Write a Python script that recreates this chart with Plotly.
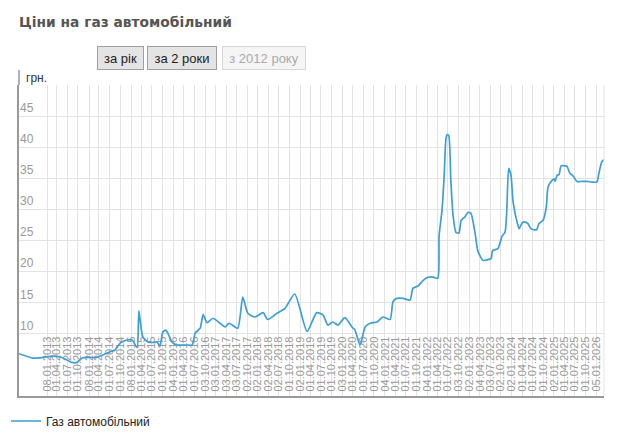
import plotly.graph_objects as go

# ---- data ----
dates = [
    "2012-05-11", "2012-09-08", "2012-12-05", "2013-02-28", "2013-05-15", "2013-06-28",
    "2013-08-10", "2013-09-24", "2013-11-07", "2014-01-15", "2014-03-15", "2014-05-05",
    "2014-07-05", "2014-08-18", "2014-10-01", "2014-11-28", "2015-01-12", "2015-02-25",
    "2015-03-12", "2015-04-15", "2015-05-30", "2015-07-12", "2015-08-15", "2015-09-10",
    "2015-10-05", "2015-10-30", "2015-11-17", "2015-12-22", "2016-02-02", "2016-05-01",
    "2016-06-14", "2016-07-10", "2016-08-22", "2016-09-17", "2016-10-20", "2016-12-10",
    "2017-02-10", "2017-03-25", "2017-04-28", "2017-07-12", "2017-08-25", "2017-10-08",
    "2017-12-10", "2018-02-17", "2018-03-28", "2018-06-17", "2018-08-25", "2018-11-17",
    "2019-03-03", "2019-05-26", "2019-07-20", "2019-08-30", "2019-10-12", "2019-11-25",
    "2020-01-23", "2020-03-25", "2020-04-20", "2020-06-03", "2020-07-17", "2020-08-30",
    "2020-10-28", "2020-12-17", "2021-02-17", "2021-03-15", "2021-04-16", "2021-06-10",
    "2021-08-08", "2021-09-02", "2021-10-17", "2021-11-30", "2022-01-11", "2022-02-25",
    "2022-04-05", "2022-04-16", "2022-05-12", "2022-05-30", "2022-06-14", "2022-06-25",
    "2022-07-08", "2022-07-26", "2022-08-15", "2022-09-09", "2022-10-05", "2022-10-23",
    "2022-11-25", "2022-12-20", "2023-01-15", "2023-02-20", "2023-03-17", "2023-05-01",
    "2023-06-28", "2023-07-10", "2023-07-23", "2023-09-06", "2023-10-12", "2023-11-06",
    "2023-11-22", "2023-12-08", "2023-12-28", "2024-01-15", "2024-02-18", "2024-03-08",
    "2024-04-01", "2024-04-26", "2024-05-22", "2024-06-17", "2024-07-23", "2024-08-08",
    "2024-08-25", "2024-10-01", "2024-10-28", "2024-11-12", "2024-12-18", "2025-01-05",
    "2025-01-12", "2025-01-30", "2025-02-15", "2025-03-05", "2025-04-10", "2025-04-25",
    "2025-05-20", "2025-06-15", "2025-07-20", "2025-09-01", "2025-10-15", "2025-11-25",
    "2026-01-08", "2026-01-25", "2026-02-20", "2026-03-10",
]
prices = [
    6.8, 6.1, 6.2, 6.4, 6.2, 5.8,
    5.4, 5.4, 6.1, 6.2, 6.2, 6.6,
    7.1, 7.4, 8.5, 9.0, 9.0, 7.8,
    13.7, 9.5, 8.7, 8.6, 8.7, 8.0,
    10.3, 10.6, 10.1, 8.7, 8.2, 8.2,
    8.2, 10.1, 10.9, 13.1, 11.8, 12.5,
    11.7, 11.1, 11.7, 10.9, 15.9, 13.3,
    12.7, 13.4, 12.3, 13.3, 14.1, 16.4,
    10.4, 13.4, 13.0, 11.4, 11.9, 11.4,
    12.6, 11.1, 10.6, 8.2, 11.1, 11.7,
    11.9, 12.7, 12.3, 15.2, 15.7, 15.7,
    15.4, 17.3, 17.7, 18.6, 19.1, 19.1,
    18.9, 25.7, 30.0, 35.4, 41.3, 42.0,
    41.9, 34.9, 29.0, 26.3, 26.2, 28.2,
    28.8, 29.5, 29.4, 26.3, 23.3, 21.8,
    22.0, 22.1, 23.4, 23.7, 25.7, 26.3,
    30.0, 36.6, 35.5, 31.2, 28.0, 26.9,
    27.8, 28.0, 27.7, 26.9, 26.7, 26.8,
    27.7, 28.3, 30.4, 33.6, 34.7, 34.9,
    34.5, 35.5, 35.6, 37.0, 37.0, 36.9,
    35.8, 35.4, 34.5, 34.5, 34.5, 34.4,
    34.4, 35.8, 37.7, 38.0,
]
tick_labels = [
    "08.01.2013", "01.04.2013", "01.07.2013", "01.10.2013", "08.01.2014", "01.04.2014",
    "01.07.2014", "01.10.2014", "08.01.2015", "01.04.2015", "01.07.2015", "01.10.2015",
    "04.01.2016", "01.04.2016", "01.07.2016", "03.10.2016", "03.01.2017", "03.04.2017",
    "03.07.2017", "02.10.2017", "02.01.2018", "02.04.2018", "02.07.2018", "01.10.2018",
    "02.01.2019", "01.04.2019", "01.07.2019", "01.10.2019", "03.01.2020", "01.04.2020",
    "01.07.2020", "01.10.2020", "04.01.2021", "01.04.2021", "01.07.2021", "01.10.2021",
    "04.01.2022", "01.04.2022", "01.07.2022", "03.10.2022", "02.01.2023", "04.04.2023",
    "03.07.2023", "02.10.2023", "02.01.2024", "01.04.2024", "01.07.2024", "01.10.2024",
    "02.01.2025", "01.04.2025", "01.07.2025", "01.10.2025", "05.01.2026",
]
tick_dates = ["-".join(reversed(t.split("."))) for t in tick_labels]
y_ticks = [5, 10, 15, 20, 25, 30, 35, 40, 45, 50]
y_ticktext = ["5", "10", "15", "20", "25", "30", "35", "40", "45", ""]

series_name = "Газ автомобільний"
title_text = "Ціни на газ автомобільний"
buttons = ["за рік", "за 2 роки", "з 2012 року"]

# ---- layout geometry ----
# The page body has an 8px default margin, so the figure is made 8px smaller
# and all page-pixel positions are shifted by that offset.
OFF = 8
W, H = 620 - OFF, 434 - OFF
L, R, T, B = 19 - OFF, 16, 85 - OFF, 38
PW, PH = W - L - R, H - T - B


def px(x):  # page pixel -> paper x
    return (x - OFF - L) / PW


def py(y):  # page pixel -> paper y
    return (H - B - (y - OFF)) / PH


LINE = "#3d9fd3"
GRID = "#e3e3e3"

fig = go.Figure()
fig.add_trace(go.Scatter(
    x=dates, y=prices, mode="lines", name=series_name,
    line=dict(color=LINE, width=1.7, shape="spline", smoothing=0.6),
))

fig.update_layout(
    width=W, height=H,
    margin=dict(l=L, r=R, t=T, b=B, pad=0, autoexpand=False),
    paper_bgcolor="white", plot_bgcolor="white",
    font=dict(family="Liberation Sans, Arial, sans-serif", size=12, color="#222"),
    showlegend=True,
    legend=dict(orientation="h", x=px(6), xanchor="left", y=py(421), yanchor="middle",
                font=dict(size=12, color="#222"), bgcolor="rgba(0,0,0,0)",
                itemwidth=30),
    xaxis=dict(
        type="date", range=[dates[0], dates[-1]],
        tickvals=tick_dates, ticktext=tick_labels, tickangle=-90,
        ticklabelposition="inside", ticks="",
        tickfont=dict(size=11, color="#999"),
        showgrid=True, gridcolor=GRID, gridwidth=1,
        showline=True, linecolor="#999", linewidth=1.5,
        zeroline=False, layer="below traces",
    ),
    yaxis=dict(
        range=[0, 50], tickvals=y_ticks, ticktext=y_ticktext,
        ticklabelposition="inside top", ticks="",
        tickfont=dict(size=12, color="#999"),
        showgrid=True, gridcolor=GRID, gridwidth=1,
        showline=True, linecolor="#999", linewidth=1.5,
        zeroline=False,
    ),
)

# right border and extended left axis line
fig.add_shape(type="line", xref="paper", yref="paper", x0=1, x1=1, y0=0, y1=1,
              line=dict(color=GRID, width=1))
fig.add_shape(type="line", xref="paper", yref="paper", x0=0, x1=0, y0=1, y1=py(70),
              line=dict(color="#999", width=1.5))

# title
fig.add_annotation(text="<b>" + title_text + "</b>", xref="paper", yref="paper",
                   x=px(17), y=py(22), xanchor="left", yanchor="middle", showarrow=False,
                   font=dict(family="DejaVu Sans, Verdana, sans-serif", size=13.8, color="#555"))
# unit label
fig.add_annotation(text="грн.", xref="paper", yref="paper", x=px(24), y=py(78),
                   xanchor="left", yanchor="middle", showarrow=False,
                   font=dict(size=12, color="#333"))

# buttons
btn_boxes = [(97, 144), (147, 217), (222, 306)]
for i, (label, (x0, x1)) in enumerate(zip(buttons, btn_boxes)):
    disabled = i == 2
    fig.add_annotation(
        text=label, xref="paper", yref="paper", x=px((x0 + x1) / 2), y=py(58),
        xanchor="center", yanchor="middle", showarrow=False,
        width=x1 - x0 - 8, height=16, borderpad=3, borderwidth=1,
        bgcolor="#f5f5f5" if disabled else "#e4e4e4",
        bordercolor="#d8d8d8" if disabled else "#a0a0a0",
        font=dict(family="Liberation Sans, Arial, sans-serif", size=13,
                  color="#aaa" if disabled else "#222"),
    )

fig.write_html("out.html")
